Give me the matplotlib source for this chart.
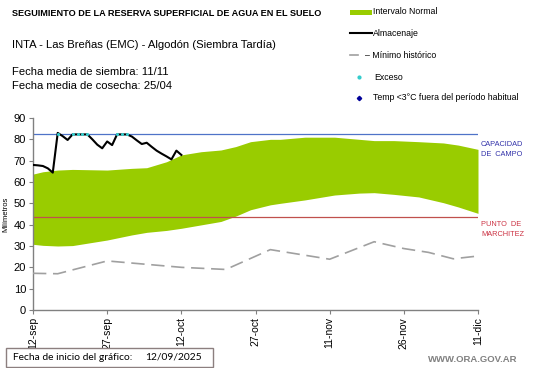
import matplotlib
matplotlib.use("Agg")
import matplotlib.pyplot as plt
from matplotlib.patches import Rectangle
from matplotlib.lines import Line2D
import numpy as np

plt.rcParams['font.family'] = ['Liberation Sans', 'DejaVu Sans']

# ---- data ----
start_label = "12/09/2025"
tick_days = [0, 15, 30, 45, 60, 75, 90]
tick_labels = ["12-sep", "27-sep", "12-oct", "27-oct", "11-nov", "26-nov", "11-dic"]

band_days = [0, 2, 5, 8, 15, 20, 23, 27, 30, 34, 38, 41, 44, 48, 50, 55, 61, 66, 69, 73, 78, 83, 86, 90]
band_upper = [63.7, 64.8, 65.6, 65.9, 65.6, 66.4, 66.7, 69.5, 72.7, 74.2, 75.0, 76.6, 78.9, 80.0,
              80.0, 81.0, 81.0, 80.0, 79.4, 79.4, 78.9, 78.3, 77.3, 75.3]
band_lower = [30.8, 30.3, 30.0, 30.2, 32.8, 35.2, 36.4, 37.3, 38.3, 39.9, 41.5, 44.0, 47.0, 49.3,
              50.0, 51.6, 53.9, 54.8, 55.0, 54.2, 53.0, 50.3, 48.3, 45.3]

alm_days = list(range(0, 31))
alm_values = [68.0, 67.8, 67.5, 66.4, 64.4, 83.0, 81.5, 79.7, 82.3, 82.3, 82.3, 82.3, 80.0, 77.5,
              75.8, 79.0, 77.3, 82.3, 82.3, 82.3, 81.3, 79.5, 77.8, 78.4, 76.5, 74.7, 73.3, 72.0,
              70.6, 74.7, 72.7]

exceso_days = [5, 8, 9, 10, 11, 17, 18, 19]
exceso_values = [82.3, 82.3, 82.3, 82.3, 82.3, 82.3, 82.3, 82.3]

min_days = [0, 5, 15, 30, 39, 48, 60, 69, 75, 80, 85, 90]
min_values = [17.2, 17.0, 23.0, 20.0, 19.0, 28.3, 23.8, 32.0, 28.8, 27.0, 24.0, 25.3]

capacidad = 82.3
marchitez = 43.7

# ---- figure ----
W, H = 541, 368
fig = plt.figure(figsize=(W / 100, H / 100), dpi=100)
fig.patch.set_facecolor('white')

x0, x1 = 33, 478
y0, y1 = 310, 118
ax = fig.add_axes([x0 / W, 1 - y0 / H, (x1 - x0) / W, (y0 - y1) / H])

ax.fill_between(band_days, band_lower, band_upper, color='#99CC00', linewidth=0, zorder=1)
ax.axhline(capacidad, color='#4F73C8', linewidth=0.9, zorder=2)
ax.axhline(marchitez, color='#C0504D', linewidth=0.9, zorder=2)
ax.plot(min_days, min_values, color='#A0A0A0', linewidth=1.2, dashes=(8, 4), zorder=3)
ax.plot(alm_days, alm_values, color='black', linewidth=1.5, zorder=4)
ax.scatter(exceso_days, exceso_values, s=5, color='#33CCCC', zorder=5, linewidths=0)

ax.set_xlim(0, 90)
ax.set_ylim(0, 90)
ax.set_yticks(np.arange(0, 91, 10))
ax.set_xticks(tick_days)
ax.set_xticklabels(tick_labels, rotation=90, fontsize=7.5)
ax.tick_params(axis='y', labelsize=8, length=3, color='#808080', pad=2)
ax.tick_params(axis='x', length=3, color='#808080', pad=2)
for s in ['top', 'right']:
    ax.spines[s].set_visible(False)
for s in ['left', 'bottom']:
    ax.spines[s].set_color('#808080')
    ax.spines[s].set_linewidth(1.0)
ax.set_ylabel('Milímetros', fontsize=5.5, labelpad=3)
ax.patch.set_alpha(0)

# ---- header texts ----
def ftxt(x, y, s, **kw):
    fig.text(x / W, 1 - y / H, s, **kw)

ftxt(12, 14, 'SEGUIMIENTO DE LA RESERVA SUPERFICIAL DE AGUA EN EL SUELO', fontsize=6.6,
     fontweight='bold', va='center')
ftxt(12, 45, 'INTA - Las Breñas (EMC) - Algodón (Siembra Tardía)', fontsize=8.1, va='center')
ftxt(12, 72, 'Fecha media de siembra: 11/11', fontsize=8.1, va='center')
ftxt(12, 86, 'Fecha media de cosecha: 25/04', fontsize=8.1, va='center')

# ---- legend (manual) ----
lfs = 6.3
fig.patches.append(Rectangle((350 / W, 1 - 15 / H), 22 / W, 5 / H, transform=fig.transFigure,
                             facecolor='#99CC00', edgecolor='none'))
ftxt(373, 12, 'Intervalo Normal', fontsize=lfs, va='center')
fig.lines.append(Line2D([350 / W, 372 / W], [1 - 33 / H, 1 - 33 / H], transform=fig.transFigure,
                        color='black', linewidth=1.5))
ftxt(373, 33, 'Almacenaje', fontsize=lfs, va='center')
fig.lines.append(Line2D([350 / W, 358 / W], [1 - 55 / H, 1 - 55 / H], transform=fig.transFigure,
                        color='#A0A0A0', linewidth=1.2))
ftxt(365, 55, '– Mínimo histórico', fontsize=lfs, va='center')
fig.lines.append(Line2D([359 / W], [1 - 77 / H], transform=fig.transFigure, marker='o',
                        markersize=2, color='#33CCCC', linestyle='none'))
ftxt(374, 77, 'Exceso', fontsize=lfs, va='center')
fig.lines.append(Line2D([359 / W], [1 - 98 / H], transform=fig.transFigure, marker='D',
                        markersize=2.2, color='#000099', linestyle='none'))
ftxt(373, 98, 'Temp <3°C fuera del período habitual', fontsize=lfs, va='center')

# ---- right labels ----
ftxt(481, 145, 'CAPACIDAD', fontsize=5.3, color='#3333AA', va='center')
ftxt(481, 154, 'DE  CAMPO', fontsize=5.3, color='#3333AA', va='center')
ftxt(481, 225, 'PUNTO  DE', fontsize=5.3, color='#CC3344', va='center')
ftxt(481, 234, 'MARCHITEZ', fontsize=5.3, color='#CC3344', va='center')

# ---- bottom box ----
fig.patches.append(Rectangle((6 / W, 1 - 367 / H), 207 / W, 19 / H, transform=fig.transFigure,
                             facecolor='white', edgecolor='#8C7F7F', linewidth=1.0))
ftxt(13, 357.5, 'Fecha de inicio del gráfico:', fontsize=7.4, va='center', family=['Lato', 'DejaVu Sans'])
ftxt(145, 357.5, start_label, fontsize=7.4, va='center', family=['Lato', 'DejaVu Sans'])
ftxt(428, 360, 'WWW.ORA.GOV.AR', fontsize=6.8, color='#808080', va='center', fontweight='bold')

fig.savefig('out.png', dpi=100)
